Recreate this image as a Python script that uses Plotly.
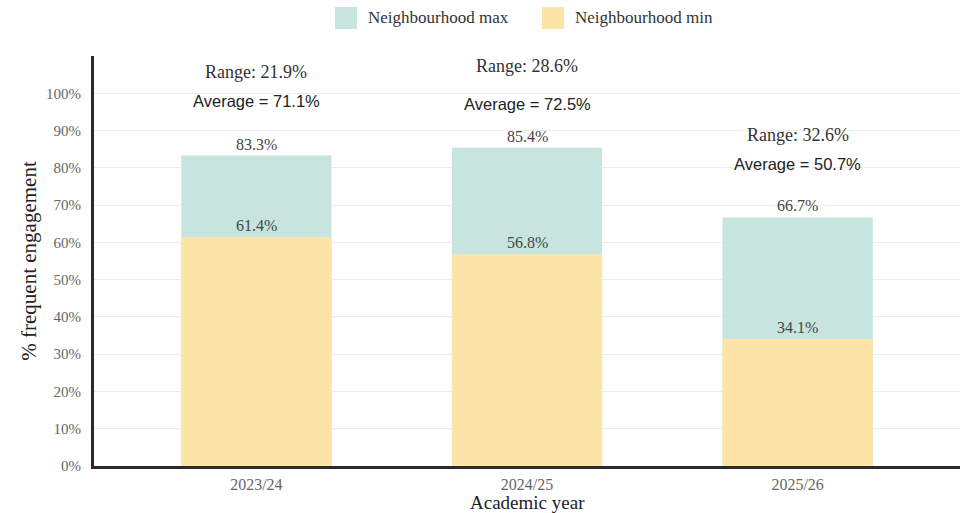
import plotly.graph_objects as go

years = ["2023/24", "2024/25", "2025/26"]
nb_min = [61.4, 56.8, 34.1]
nb_max = [83.3, 85.4, 66.7]
ranges = [21.9, 28.6, 32.6]
averages = [71.1, 72.5, 50.7]
y_ticks = [0, 10, 20, 30, 40, 50, 60, 70, 80, 90, 100, 110]
y_labels = [f"{v}%" for v in y_ticks[:-1]] + [""]

# annotation heights (layout)
range_y = [105.6, 107.3, 88.7]
avg_y = [97.8, 97.2, 81.0]

TEAL = "#c7e4de"
YELLOW = "#fce5a6"
SERIF = "Liberation Serif, Times New Roman, serif"
SANS = "Liberation Sans, Arial, sans-serif"

fig = go.Figure()
fig.add_trace(go.Bar(x=years, y=nb_max, name="Neighbourhood max", showlegend=False,
                     marker=dict(color=TEAL, line=dict(width=0)), width=0.555))
fig.add_trace(go.Bar(x=years, y=nb_min, name="Neighbourhood min", showlegend=False,
                     marker=dict(color=YELLOW, line=dict(width=0)), width=0.555))

ann = []
for i, yr in enumerate(years):
    ann.append(dict(x=yr, y=nb_max[i], text=f"{nb_max[i]:.1f}%", showarrow=False,
                    yanchor="bottom", yshift=1, font=dict(family=SERIF, size=16, color="#444")))
    ann.append(dict(x=yr, y=nb_min[i], text=f"{nb_min[i]:.1f}%", showarrow=False,
                    yanchor="bottom", yshift=1, font=dict(family=SERIF, size=16, color="#444")))
    ann.append(dict(x=yr, y=range_y[i], text=f"Range: {ranges[i]:.1f}%", showarrow=False,
                    yanchor="middle", font=dict(family=SERIF, size=18, color="#333")))
    ann.append(dict(x=yr, y=avg_y[i], text=f"Average = {averages[i]:.1f}%", showarrow=False,
                    yanchor="middle", font=dict(family=SANS, size=16.5, color="#222")))

# legend drawn as shapes + text (large square swatches)
legend_items = [("Neighbourhood max", TEAL, 335), ("Neighbourhood min", YELLOW, 542)]
shapes = []
for label, col, px in legend_items:
    shapes.append(dict(type="rect", xref="paper", yref="paper",
                       x0=(px - 94) / 866, x1=(px + 22 - 94) / 866,
                       y0=(466 - 29) / 410, y1=(466 - 7) / 410,
                       fillcolor=col, line=dict(width=0)))
    ann.append(dict(xref="paper", yref="paper", x=(px + 31 - 94) / 866, y=(466 - 18) / 410,
                    xanchor="left", yanchor="middle", showarrow=False, text=label,
                    font=dict(family=SERIF, size=17, color="#333")))

# x-axis title as annotation placed just under the tick labels
ann.append(dict(xref="paper", yref="paper", x=0.5, y=(466 - 502) / 410,
                xanchor="center", yanchor="middle", showarrow=False, text="Academic year",
                font=dict(family=SERIF, size=19, color="#222")))

fig.update_layout(
    width=970, height=513,
    margin=dict(l=94, r=10, t=56, b=47),
    barmode="overlay",
    plot_bgcolor="white", paper_bgcolor="white",
    annotations=ann,
    shapes=shapes,
    showlegend=False,
)
fig.update_xaxes(range=[-0.6, 2.6], showline=True, linecolor="#2a2a2a", linewidth=3,
                 automargin=False, ticklabelstandoff=2,
                 ticks="", tickfont=dict(family=SERIF, size=16, color="#666"))
fig.update_yaxes(range=[0, 110], tickvals=y_ticks, ticktext=y_labels, automargin=False,
                 showline=True, linecolor="#2a2a2a", linewidth=3, gridcolor="#ececec",
                 gridwidth=1, zeroline=False, ticks="", ticklabelstandoff=7,
                 tickfont=dict(family=SERIF, size=15, color="#666"),
                 title=dict(text="% frequent engagement",
                            font=dict(family=SERIF, size=21, color="#222"), standoff=4))

fig.write_html("out.html")
